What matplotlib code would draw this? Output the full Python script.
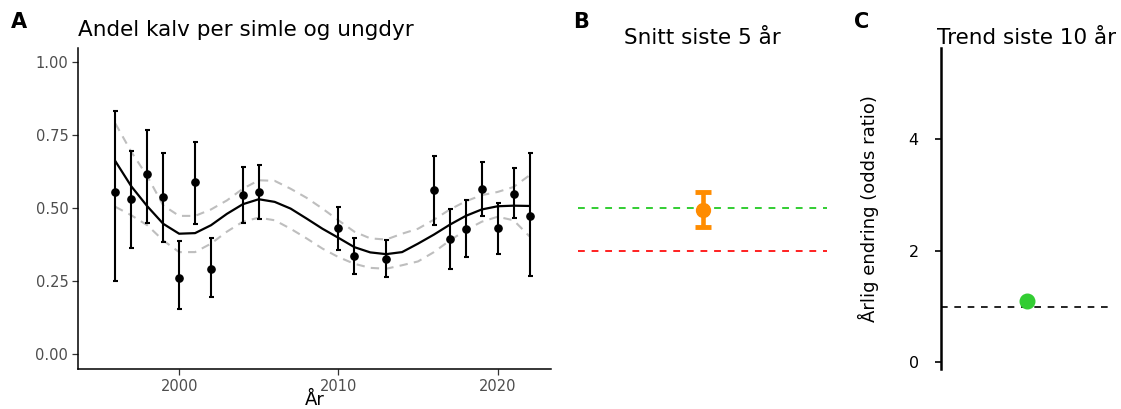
import numpy as np
import matplotlib
matplotlib.use('Agg')
import matplotlib.pyplot as plt

plt.rcParams['font.family'] = ['DejaVu Sans']

# panel A: yearly estimates with error bars
years = [1996, 1997, 1998, 1999, 2000, 2001, 2002, 2004, 2005, 2010,
         2011, 2013, 2016, 2017, 2018, 2019, 2020, 2021, 2022]
andel = [0.556, 0.531, 0.617, 0.538, 0.261, 0.590, 0.291, 0.547, 0.556, 0.432,
         0.336, 0.325, 0.562, 0.395, 0.429, 0.566, 0.433, 0.550, 0.475]
andel_lo = [0.250, 0.363, 0.451, 0.385, 0.155, 0.446, 0.196, 0.449, 0.464, 0.356,
            0.275, 0.265, 0.442, 0.293, 0.332, 0.473, 0.344, 0.467, 0.267]
andel_hi = [0.833, 0.695, 0.767, 0.689, 0.388, 0.727, 0.399, 0.642, 0.647, 0.505,
            0.399, 0.392, 0.679, 0.499, 0.527, 0.658, 0.518, 0.638, 0.689]

# panel A: smoothed trend and its confidence band
fit_years = list(range(1996, 2023))
fit = [0.661, 0.575, 0.507, 0.447, 0.413, 0.415, 0.442, 0.481, 0.514, 0.531,
       0.522, 0.499, 0.465, 0.430, 0.399, 0.367, 0.349, 0.343, 0.350, 0.379,
       0.410, 0.444, 0.474, 0.496, 0.507, 0.509, 0.508]
fit_hi = [0.790, 0.693, 0.610, 0.510, 0.474, 0.474, 0.496, 0.527, 0.567, 0.596,
          0.594, 0.567, 0.536, 0.499, 0.459, 0.420, 0.397, 0.393, 0.413, 0.430,
          0.461, 0.496, 0.524, 0.545, 0.556, 0.573, 0.613]
fit_lo = [0.505, 0.476, 0.442, 0.390, 0.350, 0.350, 0.379, 0.420, 0.454, 0.468,
          0.459, 0.430, 0.397, 0.362, 0.333, 0.310, 0.296, 0.293, 0.305, 0.318,
          0.350, 0.390, 0.425, 0.454, 0.471, 0.459, 0.404]

# panel B: mean last 5 years with reference levels
snitt = 0.493
snitt_lo = 0.436
snitt_hi = 0.555
ref_green = 0.50
ref_red = 0.354

# panel C: annual change (odds ratio)
trend = 1.10
trend_ref = 1.0

W, H = 1121, 409
fig = plt.figure(figsize=(W / 100, H / 100), dpi=100)


def px_axes(x0, x1, y0, y1):
    return fig.add_axes([x0 / W, 1 - y1 / H, (x1 - x0) / W, (y1 - y0) / H])


grey30 = '#4D4D4D'

# ---- A ----
axA = px_axes(78, 551, 47.7, 368.9)
axA.plot(fit_years, fit_hi, color='#BEBEBE', lw=1.5, ls=(0, (4, 3)))
axA.plot(fit_years, fit_lo, color='#BEBEBE', lw=1.5, ls=(0, (4, 3)))
axA.plot(fit_years, fit, color='black', lw=1.6, solid_joinstyle='round')
yerr = [np.array(andel) - np.array(andel_lo), np.array(andel_hi) - np.array(andel)]
axA.errorbar(years, andel, yerr=yerr, fmt='o', color='black', ms=5.2,
             elinewidth=1.5, capsize=1.8, capthick=1.5)
axA.set_xlim(1993.65, 2023.35)
axA.set_ylim(-0.05, 1.05)
axA.set_xticks([2000, 2010, 2020])
axA.set_yticks([0, 0.25, 0.5, 0.75, 1.0])
axA.set_yticklabels(['0.00', '0.25', '0.50', '0.75', '1.00'])
for s in ['top', 'right']:
    axA.spines[s].set_visible(False)
for s in ['left', 'bottom']:
    axA.spines[s].set_linewidth(1.1)
axA.tick_params(labelsize=10.5, labelcolor=grey30, color='#333333',
                length=4, width=0.9, pad=3)
fig.text(315 / W, 1 - 405 / H, 'År', ha='center', va='baseline', fontsize=13)

# ---- B ----
axB = px_axes(578, 827, 47.7, 368.9)
axB.axhline(ref_green, color='limegreen', lw=1.4, ls=(0, (3.5, 3.5)))
axB.axhline(ref_red, color='#FF2020', lw=1.4, ls=(0, (3.5, 3.5)))
axB.errorbar([1], [snitt], yerr=[[snitt - snitt_lo], [snitt_hi - snitt]],
             fmt='o', color='darkorange', ms=10, elinewidth=3.3,
             capsize=5.6, capthick=3.5)
axB.set_xlim(0, 2)
axB.set_ylim(-0.05, 1.05)
axB.axis('off')

# ---- C ----
axC = px_axes(941, 1113, 47.7, 368.9)
axC.axhline(trend_ref, color='black', lw=1.2, ls=(0, (4, 4)))
axC.plot([1], [trend], 'o', color='limegreen', ms=10.5)
axC.set_xlim(0, 2)
axC.set_ylim(-0.118, 5.643)
axC.set_yticks([0, 2, 4])
axC.set_xticks([])
for s in ['top', 'right', 'bottom']:
    axC.spines[s].set_visible(False)
axC.spines['left'].set_linewidth(1.8)
axC.tick_params(axis='y', labelsize=11.5, colors='black', length=4, width=1.2, pad=12)
axC.set_ylabel('Årlig endring (odds ratio)', fontsize=13, labelpad=21)

# ---- titles and panel letters ----
fig.text(78 / W, 1 - 36 / H, 'Andel kalv per simle og ungdyr', ha='left',
         va='baseline', fontsize=15.5)
fig.text(702.5 / W, 1 - 44 / H, 'Snitt siste 5 år', ha='center',
         va='baseline', fontsize=15.5)
fig.text(1027 / W, 1 - 44 / H, 'Trend siste 10 år', ha='center',
         va='baseline', fontsize=15.5)
for letter, x in [('A', 11), ('B', 573), ('C', 854)]:
    fig.text(x / W, 1 - 28 / H, letter, ha='left', va='baseline',
             fontsize=15, fontweight='bold')

fig.savefig('out.png', dpi=100)
